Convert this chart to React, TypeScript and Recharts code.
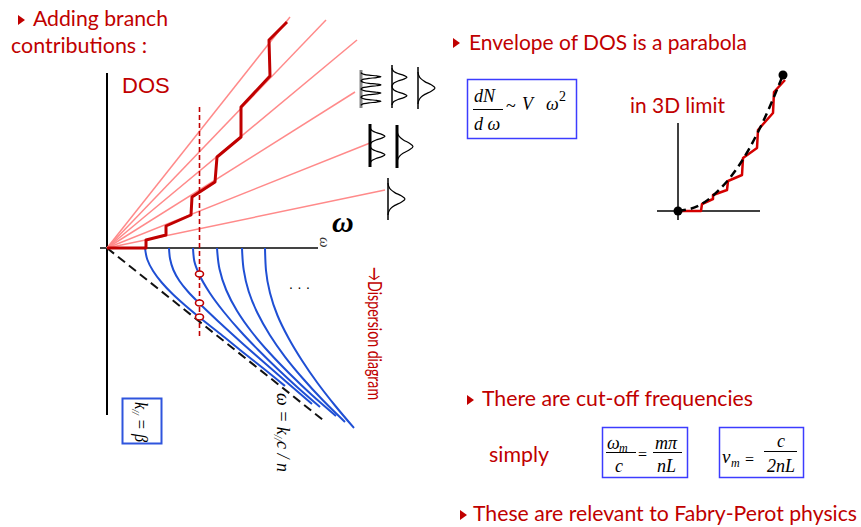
import React from 'react';
import { ComposedChart, Line, Scatter, XAxis, YAxis } from 'recharts';

type Pt = { x: number; y: number };

// ---- main diagram: omega to the right, DOS up, k// down (1 unit = 10 px)
const omegaAxis: Pt[] = [{ x: -0.7, y: 0 }, { x: 21.1, y: 0 }];
const dosAxis: Pt[] = [{ x: 0, y: 17.5 }, { x: 0, y: -16.7 }];

// ends of the single-branch DOS lines (fan from the origin)
const fanEnds: Pt[] = [
  { x: 18.3, y: 23.1 },
  { x: 21.9, y: 22.8 },
  { x: 25.0, y: 20.8 },
  { x: 24.8, y: 15.6 },
  { x: 26.3, y: 10.5 },
  { x: 27.8, y: 5.8 },
];

// summed DOS staircase
const dosSteps: Pt[] = [
  { x: 0, y: 0 }, { x: 3.9, y: 0 }, { x: 3.9, y: 0.8 }, { x: 5.9, y: 1.3 },
  { x: 5.9, y: 2.2 }, { x: 8.4, y: 3.3 }, { x: 8.5, y: 5.1 }, { x: 10.8, y: 6.6 },
  { x: 11.0, y: 9.1 }, { x: 13.4, y: 11.1 }, { x: 13.4, y: 14.1 }, { x: 16.3, y: 17.2 },
  { x: 16.2, y: 20.8 }, { x: 18.0, y: 22.6 },
];

// dispersion branches, read along each curve from its cut-off
const branches: Pt[][] = [
  [{ x: 3.8, y: 0 }, { x: 4.03, y: -1.15 }, { x: 4.61, y: -2.3 }, { x: 5.47, y: -3.45 }, { x: 6.56, y: -4.6 }, { x: 7.83, y: -5.75 }, { x: 9.2, y: -6.9 }, { x: 11.35, y: -8.6 }, { x: 13.5, y: -10.35 }, { x: 15.65, y: -12.05 }, { x: 17.8, y: -13.8 }],
  [{ x: 6.2, y: 0 }, { x: 6.31, y: -1.1 }, { x: 6.64, y: -2.2 }, { x: 7.25, y: -3.3 }, { x: 8.13, y: -4.4 }, { x: 9.2, y: -5.5 }, { x: 11.33, y: -7.52 }, { x: 13.55, y: -9.54 }, { x: 15.83, y: -11.56 }, { x: 18.15, y: -13.58 }, { x: 20.5, y: -15.6 }],
  [{ x: 8.6, y: 0 }, { x: 8.73, y: -1.3 }, { x: 9.2, y: -2.6 }, { x: 10.28, y: -4.5 }, { x: 11.69, y: -6.4 }, { x: 13.32, y: -8.3 }, { x: 15.13, y: -10.2 }, { x: 17.07, y: -12.1 }, { x: 19.12, y: -14.0 }, { x: 21.3, y: -15.9 }],
  [{ x: 11.0, y: 0 }, { x: 11.25, y: -2.1 }, { x: 11.92, y: -4.2 }, { x: 13.01, y: -6.3 }, { x: 14.48, y: -8.4 }, { x: 16.27, y: -10.5 }, { x: 18.29, y: -12.6 }, { x: 20.49, y: -14.7 }, { x: 22.9, y: -16.8 }],
  [{ x: 13.5, y: 0 }, { x: 13.67, y: -2.18 }, { x: 14.17, y: -4.35 }, { x: 15.06, y: -6.53 }, { x: 16.28, y: -8.7 }, { x: 17.8, y: -10.88 }, { x: 19.59, y: -13.05 }, { x: 21.59, y: -15.23 }, { x: 23.8, y: -17.4 }],
  [{ x: 15.8, y: 0 }, { x: 15.9, y: -2.25 }, { x: 16.3, y: -4.5 }, { x: 17.05, y: -6.75 }, { x: 18.15, y: -9.0 }, { x: 19.5, y: -11.25 }, { x: 21.05, y: -13.5 }, { x: 22.8, y: -15.75 }, { x: 24.7, y: -18.0 }],
];

const lightLine: Pt[] = [{ x: 0, y: 0 }, { x: 21.6, y: -17.2 }];
const probeOmega = 9.25;
const probeSpan = [14.1, -9.0];
const probeHits = [-2.6, -5.5, -6.9];

// little spectra drawn at the end of the fan lines
const peakIcons = [
  { x: 25.4, top: 17.8, bottom: 14.0, peaks: 4, height: 2.0, heavy: 'grey' },
  { x: 28.5, top: 18.3, bottom: 14.0, peaks: 2, height: 1.5, heavy: '' },
  { x: 31.1, top: 18.1, bottom: 13.9, peaks: 1, height: 1.7, heavy: '' },
  { x: 26.3, top: 12.4, bottom: 8.1, peaks: 2, height: 1.5, heavy: 'black' },
  { x: 29.0, top: 12.3, bottom: 8.0, peaks: 1, height: 1.6, heavy: 'black' },
  { x: 28.1, top: 7.0, bottom: 2.8, peaks: 1, height: 1.7, heavy: '' },
];
const peakProfile = [
  [0, 0], [0.1, 0.04], [0.2, 0.15], [0.3, 0.4], [0.4, 0.78], [0.5, 1],
  [0.6, 0.78], [0.7, 0.4], [0.8, 0.15], [0.9, 0.04], [1, 0],
];

// ---- inset: 3D limit (1 unit = 10 px)
const insetOmegaAxis: Pt[] = [{ x: -2.1, y: 0 }, { x: 8.2, y: 0 }];
const insetDosAxis: Pt[] = [{ x: 0, y: 8.8 }, { x: 0, y: -0.9 }];
const insetSteps: Pt[] = [
  { x: 0, y: 0 }, { x: 2.3, y: 0 }, { x: 2.4, y: 0.7 }, { x: 3.5, y: 1.2 }, { x: 3.5, y: 1.6 },
  { x: 4.9, y: 2.1 }, { x: 5.0, y: 3.0 }, { x: 6.4, y: 3.6 }, { x: 6.5, y: 5.3 }, { x: 7.9, y: 6.3 },
  { x: 8.0, y: 8.1 }, { x: 9.5, y: 9.8 }, { x: 9.6, y: 11.9 }, { x: 10.7, y: 13.1 },
];
const insetParabola: Pt[] = [
  { x: 0, y: 0 }, { x: 2.2, y: 0.6 }, { x: 4.2, y: 2.2 }, { x: 6.2, y: 4.7 }, { x: 8.2, y: 8.3 }, { x: 10.5, y: 13.6 },
];
const insetDots: Pt[] = [{ x: 0, y: 0 }, { x: 10.5, y: 13.6 }];

const RED = '#c00000';
const BLUE_BOX = '#3c3cff';
const SANS = 'Lato, "Open Sans", sans-serif';
const ARIAL = '"Liberation Sans", Arial, sans-serif';
const SERIF = '"Liberation Serif", "Times New Roman", serif';

type Frame = { left: number; top: number; width: number; height: number; ox: number; oy: number; unit: number };
const MAIN: Frame = { left: 90, top: 0, width: 360, height: 480, ox: 107, oy: 248, unit: 10 };
const INSET: Frame = { left: 645, top: 60, width: 150, height: 170, ox: 678, oy: 211, unit: 10 };

const Diagram = ({ frame, children }: { frame: Frame; children: React.ReactNode }) => {
  const xDomain = [(frame.left - frame.ox) / frame.unit, (frame.left + frame.width - frame.ox) / frame.unit];
  const yDomain = [(frame.oy - frame.top - frame.height) / frame.unit, (frame.oy - frame.top) / frame.unit];
  return (
    <div style={{ position: 'absolute', left: frame.left, top: frame.top }}>
      <ComposedChart width={frame.width} height={frame.height} margin={{ top: 0, right: 0, bottom: 0, left: 0 }}>
        <XAxis type="number" dataKey="x" domain={xDomain} allowDataOverflow hide />
        <YAxis type="number" dataKey="y" domain={yDomain} allowDataOverflow hide />
        {children}
      </ComposedChart>
    </div>
  );
};

const path = (key: string, data: Pt[], stroke: string, width: number, opts: { dash?: string; curve?: any } = {}) => (
  <Line
    key={key}
    data={data}
    dataKey="y"
    type={opts.curve || 'linear'}
    stroke={stroke}
    strokeWidth={width}
    strokeDasharray={opts.dash}
    strokeLinejoin="round"
    dot={false}
    activeDot={false}
    isAnimationActive={false}
  />
);

const iconSeries = peakIcons.flatMap((ic, i) => {
  const len = ic.top - ic.bottom;
  const inset = ic.peaks === 1 ? 0.12 : 0.07;
  const start = ic.top - inset * len;
  const span = ((1 - 2 * inset) * len) / ic.peaks;
  const pts: Pt[] = [];
  for (let p = 0; p < ic.peaks; p++) {
    peakProfile.forEach(([t, h], j) => {
      if (p > 0 && j === 0) return;
      pts.push({ x: ic.x + h * ic.height, y: start - (p + t) * span });
    });
  }
  const baseColor = ic.heavy === 'grey' ? '#858585' : '#000';
  const baseWidth = ic.heavy ? 3 : 1.5;
  return [
    path(`ib${i}`, [{ x: ic.x, y: ic.top }, { x: ic.x, y: ic.bottom }], baseColor, baseWidth),
    path(`ip${i}`, pts, '#000', 1.2, { curve: 'monotoneY' }),
  ];
});

const Ellipse = (props: any) => (
  <ellipse cx={props.cx} cy={props.cy} rx={4} ry={3} fill="#fff" stroke={RED} strokeWidth={1.6} />
);
const Dot = (props: any) => <circle cx={props.cx} cy={props.cy} r={4.5} fill="#000" />;

const Bullet = ({ x, y }: { x: number; y: number }) => (
  <polygon points={`${x},${y - 5} ${x + 7},${y} ${x},${y + 5}`} fill={RED} />
);

const Overlay = () => (
  <svg width={861} height={527} style={{ position: 'absolute', left: 0, top: 0, pointerEvents: 'none' }}>
    <g fill={RED} fontFamily={SANS} fontSize={21}>
      <Bullet x={18} y={20} />
      <text x={33} y={26} textLength={135} lengthAdjust="spacingAndGlyphs">Adding branch</text>
      <text x={11} y={53} textLength={136} lengthAdjust="spacingAndGlyphs">contributions :</text>

      <Bullet x={453} y={43} />
      <text x={469} y={50} textLength={278} lengthAdjust="spacingAndGlyphs">Envelope of DOS is a parabola</text>
      <text x={630} y={113} textLength={95} lengthAdjust="spacingAndGlyphs">in 3D limit</text>

      <Bullet x={467} y={400} />
      <text x={482} y={406} textLength={271} lengthAdjust="spacingAndGlyphs">There are cut-off frequencies</text>
      <text x={489} y={462} textLength={60} lengthAdjust="spacingAndGlyphs">simply</text>

      <Bullet x={460} y={515} />
      <text x={473} y={521} textLength={384} lengthAdjust="spacingAndGlyphs">These are relevant to Fabry-Perot physics</text>
    </g>

    <text x={122} y={93} fill={RED} fontFamily={ARIAL} fontSize={22}>DOS</text>
    <text x={332} y={232} fontFamily={SERIF} fontStyle="italic" fontWeight="bold" fontSize={30}>ω</text>
    <text transform="translate(320,237) rotate(90)" fontFamily={SERIF} fontStyle="italic" fontSize={15} fill="#333">ω</text>
    <text x={289} y={289} fontFamily={ARIAL} fontSize={14} textLength={21} lengthAdjust="spacing">...</text>

    <text transform="translate(368,267) rotate(90)" fill={RED} fontFamily={SANS} fontSize={20} textLength={133} lengthAdjust="spacingAndGlyphs">→Dispersion diagram</text>

    <text transform="translate(277,393) rotate(90)" fontFamily={SERIF} fontStyle="italic" fontSize={19} textLength={79} lengthAdjust="spacingAndGlyphs">
      ω = k<tspan fontSize={12} dy={3}>//</tspan><tspan dy={-3}>c / n</tspan>
    </text>

    <rect x={122.5} y={398.5} width={39} height={45} fill="#fff" stroke="#2f55dd" strokeWidth={2} />
    <text transform="translate(135,402) rotate(90)" fontFamily={SERIF} fontStyle="italic" fontSize={18} textLength={40} lengthAdjust="spacingAndGlyphs">
      k<tspan fontSize={11} dy={3}>//</tspan><tspan dy={-3}> = β</tspan>
    </text>

    <g fontFamily={SERIF} fontStyle="italic" fontSize={18} fill="#000">
      <rect x={467.5} y={79.5} width={109} height={59} fill="none" stroke={BLUE_BOX} strokeWidth={1.5} />
      <text x={474} y={102}>dN</text>
      <line x1={473} x2={503} y1={109.5} y2={109.5} stroke="#000" strokeWidth={1} />
      <text x={474} y={130}>d ω</text>
      <text x={506} y={112} fontStyle="normal">~</text>
      <text x={522} y={110}>V</text>
      <text x={546} y={110}>ω</text>
      <text x={559} y={101} fontStyle="normal" fontSize={14}>2</text>

      <rect x={602.5} y={427.5} width={85} height={50} fill="none" stroke={BLUE_BOX} strokeWidth={1.5} />
      <text x={607} y={449}>ω</text>
      <text x={619} y={452} fontSize={12}>m</text>
      <line x1={606} x2={636} y1={452.5} y2={452.5} stroke="#000" strokeWidth={1} />
      <text x={615} y={472}>c</text>
      <text x={638} y={460} fontStyle="normal" fontSize={16}>=</text>
      <text x={655} y={449}>mπ</text>
      <line x1={653} x2={682} y1={452.5} y2={452.5} stroke="#000" strokeWidth={1} />
      <text x={657} y={472}>nL</text>

      <rect x={719.5} y={427.5} width={84} height={50} fill="none" stroke={BLUE_BOX} strokeWidth={1.5} />
      <text x={722} y={463} fontSize={19}>ν</text>
      <text x={731} y={467} fontSize={12}>m</text>
      <text x={745} y={465} fontStyle="normal" fontSize={16}>=</text>
      <text x={777} y={447}>c</text>
      <line x1={764} x2={797} y1={451.5} y2={451.5} stroke="#000" strokeWidth={1} />
      <text x={767} y={472}>2nL</text>
    </g>
  </svg>
);

export default function App() {
  return (
    <div style={{ position: 'absolute', left: 0, top: 0, width: 861, height: 527, background: '#fff', overflow: 'hidden' }}>
      <Diagram frame={MAIN}>
        {path('dosAxis', dosAxis, '#000', 2)}
        {path('omegaAxis', omegaAxis, '#444', 2)}
        {fanEnds.map((e, i) => path(`fan${i}`, [{ x: 0, y: 0 }, e], '#ff8a8a', 1.5))}
        {iconSeries}
        {branches.map((b, i) => path(`br${i}`, b, '#1f4fd4', 2, { curve: 'monotoneY' }))}
        {path('light', lightLine, '#111', 2, { dash: '9 5' })}
        {path('steps', dosSteps, RED, 3)}
        {path('probe', [{ x: probeOmega, y: probeSpan[0] }, { x: probeOmega, y: probeSpan[1] }], RED, 1.6, { dash: '5 3' })}
        <Scatter
          data={probeHits.map((k) => ({ x: probeOmega, y: k }))}
          shape={Ellipse}
          isAnimationActive={false}
        />
      </Diagram>

      <Diagram frame={INSET}>
        {path('iy', insetDosAxis, '#000', 1.5)}
        {path('ix', insetOmegaAxis, '#000', 1.5)}
        {path('isteps', insetSteps, '#d40000', 2.5)}
        {path('ipar', insetParabola, '#000', 2.5, { dash: '8 5', curve: 'monotoneX' })}
        <Scatter data={insetDots} shape={Dot} isAnimationActive={false} />
      </Diagram>

      <Overlay />
    </div>
  );
}
